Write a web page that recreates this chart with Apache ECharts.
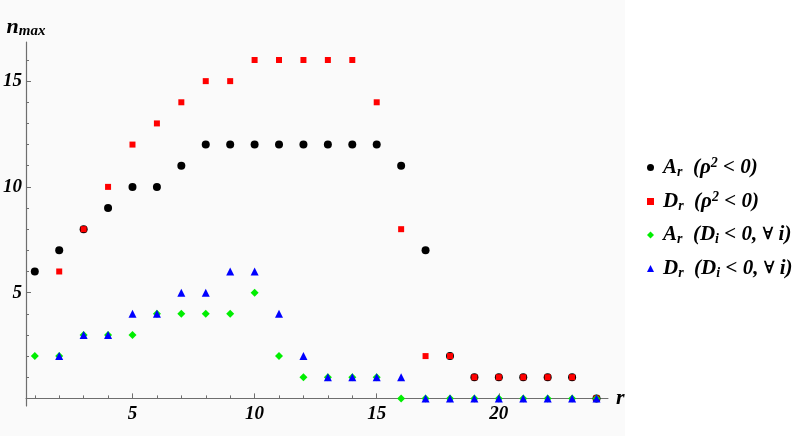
<!DOCTYPE html>
<html>
<head>
<meta charset="utf-8">
<script src="https://cdn.jsdelivr.net/npm/echarts@6/dist/echarts.min.js"></script>
<style>html,body{margin:0;padding:0;background:#fff}#c{width:799px;height:436px}</style>
</head>
<body>
<div id="c"></div>
<script>
var rValues = [1,2,3,4,5,6,7,8,9,10,11,12,13,14,15,16,17,18,19,20,21,22,23,24];
var aRho = [6,7,8,9,10,10,11,12,12,12,12,12,12,12,12,11,7,2,1,1,1,1,1,0];
var dRho = [null,6,8,10,12,13,14,15,15,16,16,16,16,16,14,8,2,2,1,1,1,1,1,0];
var aDi = [2,2,3,3,3,4,4,4,4,5,2,1,1,1,1,0,0,0,0,0,0,0,0,0];
var dDi = [null,2,3,3,4,4,5,5,6,6,4,2,1,1,1,1,0,0,0,0,0,0,0,0];
var xTickValues = [1,2,3,4,5,6,7,8,9,10,11,12,13,14,15,16,17,18,19,20,21,22,23,24];
var xLabelValues = [5,10,15,20];
var yTickValues = [1,2,3,4,5,6,7,8,9,10,11,12,13,14,15,16];
var yLabelValues = [5,10,15];
var legendNames = {
  A1: '{g| }{i|A}{s|r}{i|  (}{i|ρ}{p|2}{i| < 0)}',
  D1: '{g| }{i|D}{s|r}{i|  (}{i|ρ}{p|2}{i| < 0)}',
  A2: '{g| }{i|A}{s|r}{i|  (D}{s|i}{i| < 0, }{f|∀}{i| i)}',
  D2: '{g| }{i|D}{s|r}{i|  (D}{s|i}{i| < 0, }{f|∀}{i| i)}'
};

function pairs(ys){
  var out=[];
  for (var k=0;k<rValues.length;k++){ if (ys[k]!==null) out.push([rValues[k], ys[k]]); }
  return out;
}
var serif = 'Liberation Serif';
var axisCol = '#6e6e6e';
var labelStyle = {fontFamily: serif, fontStyle:'italic', fontWeight:'bold', fontSize:19, color:'#000'};

var chart = echarts.init(document.getElementById('c'));
chart.setOption({
  backgroundColor: '#ffffff',
  animation: false,
  graphic: [{type:'rect', z:-10, shape:{x:0,y:0,width:625,height:436}, style:{fill:'#fafafa'}}],
  grid: {left:23, right:191, top:42, bottom:30, containLabel:false},
  legend: {
    orient:'vertical', left:642, top:151, itemWidth:7, itemHeight:7, itemGap:11,
    data:['A1','D1','A2','D2'],
    formatter: function(n){ return legendNames[n]; },
    textStyle: {
      lineHeight:22,
      rich: {
        g: {width:4, fontSize:10},
        i: {fontFamily: serif, fontStyle:'italic', fontWeight:'bold', fontSize:21, color:'#000'},
        f: {fontFamily: 'DejaVu Serif', fontWeight:'bold', fontSize:17, color:'#000'},
        s: {fontFamily: serif, fontStyle:'italic', fontWeight:'bold', fontSize:14, color:'#000', padding:[9,0,0,0]},
        p: {fontFamily: serif, fontStyle:'italic', fontWeight:'bold', fontSize:14, color:'#000', padding:[0,0,9,0]}
      }
    }
  },
  xAxis: [{
    type:'value', min:0.64, max:24.47,
    name:'r', nameLocation:'end', nameGap:8,
    nameTextStyle:{fontFamily: serif, fontStyle:'italic', fontWeight:'bold', fontSize:22, color:'#000', verticalAlign:'middle'},
    axisLine:{onZero:true, lineStyle:{color:axisCol, width:1}},
    axisTick:{show:true, inside:true, length:5, customValues:xLabelValues, lineStyle:{color:axisCol}},
    axisLabel:Object.assign({customValues:xLabelValues, margin:-1}, labelStyle),
    splitLine:{show:false}
  },{
    type:'value', min:0.64, max:24.47, position:'bottom',
    axisLine:{show:false, onZero:true},
    axisTick:{show:true, inside:true, length:3, customValues:xTickValues, lineStyle:{color:axisCol}},
    axisLabel:{show:false},
    splitLine:{show:false}
  }],
  yAxis: [{
    type:'value', min:-0.36, max:16.85,
    name:'{n|n}{m|max}', nameLocation:'end', nameGap:3,
    nameTextStyle:{rich:{
      n:{fontFamily: serif, fontStyle:'italic', fontWeight:'bold', fontSize:22, color:'#000'},
      m:{fontFamily: serif, fontStyle:'italic', fontWeight:'bold', fontSize:15, color:'#000', padding:[8,0,0,0]}
    }},
    axisLine:{onZero:false, lineStyle:{color:axisCol, width:1.2}},
    axisTick:{show:true, inside:true, length:5, customValues:yLabelValues, lineStyle:{color:axisCol}},
    axisLabel:Object.assign({customValues:yLabelValues, margin:4}, labelStyle),
    splitLine:{show:false}
  },{
    type:'value', min:-0.36, max:16.85, position:'left',
    axisLine:{show:false, onZero:false},
    axisTick:{show:true, inside:true, length:3, customValues:yTickValues, lineStyle:{color:axisCol}},
    axisLabel:{show:false},
    splitLine:{show:false}
  }],
  series: [
    {name:'A1', type:'scatter', symbol:'circle', symbolSize:8, itemStyle:{color:'#000000', opacity:1}, data:pairs(aRho), z:2},
    {name:'D1', type:'scatter', symbol:'rect', symbolSize:6, itemStyle:{color:'#ff0000', opacity:1}, data:pairs(dRho), z:3},
    {name:'A2', type:'scatter', symbol:'diamond', symbolSize:8, itemStyle:{color:'#00ee00', opacity:1}, data:pairs(aDi), z:4},
    {name:'D2', type:'scatter', symbol:'triangle', symbolSize:8, itemStyle:{color:'#0000ff', opacity:1}, data:pairs(dDi), z:5}
  ]
});
</script>
</body>
</html>
